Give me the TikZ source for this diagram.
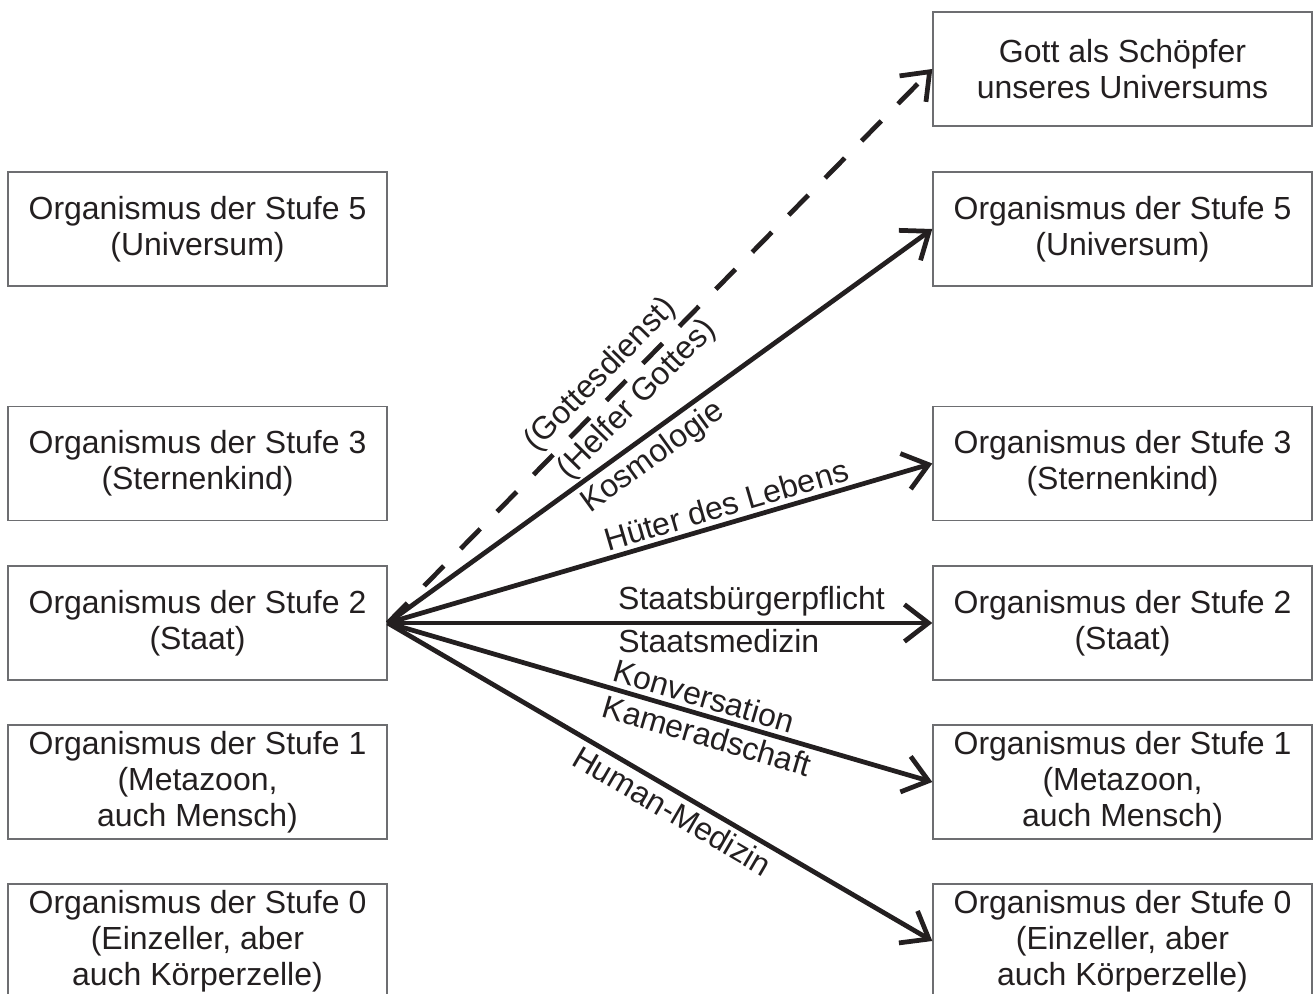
\documentclass[tikz,border=0pt]{standalone}
\usepackage{fontspec}
\setmainfont{Liberation Sans}
\usetikzlibrary{arrows.meta}
\definecolor{rahmen}{HTML}{6D6E71}
\definecolor{tinte}{HTML}{231F20}
\begin{document}
\begin{tikzpicture}[font=\fontsize{18.2}{20.5}\selectfont, text=tinte,
    stufe/.style={draw=rahmen, line width=0.8pt, minimum width=7.58cm,
        minimum height=2.28cm, inner sep=0pt, align=center},
    pfeil/.style={draw=tinte, line width=2.7pt,
        -{Straight Barb[length=4.8mm, width=7.4mm]}},
    beschr/.style={sloped, inner sep=2.5pt}]
    \useasboundingbox (0,0) rectangle (26.28,19.86);

    % Left column
    \node[stufe] (l5) at (3.95,15.28) {Organismus der Stufe 5\\(Universum)};
    \node[stufe] (l3) at (3.95,10.59) {Organismus der Stufe 3\\(Sternenkind)};
    \node[stufe] (l2) at (3.95,7.40) {Organismus der Stufe 2\\(Staat)};
    \node[stufe] (l1) at (3.95,4.22) {Organismus der Stufe 1\\(Metazoon,\\auch Mensch)};
    \node[stufe] (l0) at (3.95,1.04) {Organismus der Stufe 0\\(Einzeller, aber\\auch Körperzelle)};

    % Right column
    \node[stufe] (gott) at (22.45,18.48) {Gott als Schöpfer\\unseres Universums};
    \node[stufe] (r5) at (22.45,15.28) {Organismus der Stufe 5\\(Universum)};
    \node[stufe] (r3) at (22.45,10.59) {Organismus der Stufe 3\\(Sternenkind)};
    \node[stufe] (r2) at (22.45,7.40) {Organismus der Stufe 2\\(Staat)};
    \node[stufe] (r1) at (22.45,4.22) {Organismus der Stufe 1\\(Metazoon,\\auch Mensch)};
    \node[stufe] (r0) at (22.45,1.04) {Organismus der Stufe 0\\(Einzeller, aber\\auch Körperzelle)};

    % Arrows from the state
    \draw[pfeil, dash pattern=on 0.56cm off 0.48cm] (l2.east) -- (gott.west)
        node[beschr, pos=0.42, above] {(Gottesdienst)}
        node[beschr, pos=0.43, below] {(Helfer Gottes)};
    \draw[pfeil] (l2.east) -- (r5.west)
        node[beschr, pos=0.464, below] {Kosmologie};
    \draw[pfeil] (l2.east) -- (r3.west)
        node[beschr, pos=0.631, above] {Hüter des Lebens};
    \draw[pfeil] (l2.east) -- (r2.west)
        node[beschr, pos=0.668, above] {Staatsbürgerpflicht}
        node[beschr, pos=0.608, below] {Staatsmedizin};
    \draw[pfeil] (l2.east) -- (r1.west)
        node[beschr, pos=0.571, above] {Konversation}
        node[beschr, pos=0.596, below] {Kameradschaft};
    \draw[pfeil] (l2.east) -- (r0.west)
        node[beschr, pos=0.540, below] {Human-Medizin};
\end{tikzpicture}
\end{document}
